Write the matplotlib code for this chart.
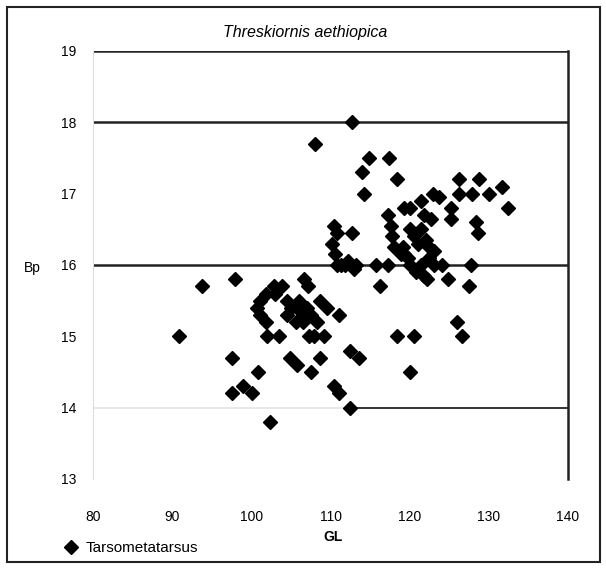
import matplotlib
matplotlib.use("Agg")
import matplotlib.pyplot as plt
from matplotlib.patches import Rectangle

# GL (x) and Bp (y) of the tarsometatarsus
gl = [90.9, 93.8, 97.9, 97.5, 100.9, 97.6, 99.0, 100.1, 102.3,
      103.9, 102.8, 101.8, 101.1, 100.7, 101.1, 101.8, 102.0, 103.5,
      106.6, 107.2, 106.0, 108.7, 104.5, 106.2, 107.5, 108.3, 105.6,
      111.1, 107.9, 109.2, 107.3, 104.9, 105.8, 108.7, 112.5, 113.6,
      107.5, 110.4, 111.1, 112.5, 103.0, 104.5, 105.0, 106.5, 107.0, 109.5,
      111.3, 112.2, 113.2, 110.8, 112.7, 108.1, 114.8, 117.4, 114.0,
      118.4, 114.2, 119.3, 117.2, 110.8, 112.7, 110.2, 110.6, 117.6,
      117.8, 118.0, 118.9, 115.7, 117.2, 126.2, 128.8, 131.7, 126.2,
      127.9, 130.0, 132.4, 122.9, 123.7, 121.4, 125.2, 125.2, 120.1,
      122.7, 121.8, 128.4, 128.6, 120.1, 121.4, 122.0, 120.5, 122.4,
      123.1, 119.1, 119.3, 120.1, 121.4, 123.1, 124.1, 127.7, 121.8,
      122.2, 124.8, 127.5, 120.8, 113.0, 116.3, 126.0, 126.6, 118.4,
      120.5, 120.1, 119.8, 121.0, 122.5, 111.8, 110.5]
bp = [15.0, 15.7, 15.8, 14.7, 14.5, 14.2, 14.3, 14.2, 13.8,
      15.7, 15.7, 15.6, 15.5, 15.4, 15.3, 15.2, 15.0, 15.0,
      15.8, 15.7, 15.5, 15.5, 15.3, 15.35, 15.3, 15.2, 15.2,
      15.3, 15.0, 15.0, 15.0, 14.7, 14.6, 14.7, 14.8, 14.7,
      14.5, 14.3, 14.2, 14.0, 15.6, 15.5, 15.4, 15.2, 15.4, 15.4,
      16.0, 16.05, 16.0, 16.0, 18.0, 17.7, 17.5, 17.5, 17.3,
      17.2, 17.0, 16.8, 16.7, 16.45, 16.45, 16.3, 16.15, 16.55,
      16.4, 16.25, 16.15, 16.0, 16.0, 17.2, 17.2, 17.1, 17.0,
      17.0, 17.0, 16.8, 17.0, 16.95, 16.9, 16.8, 16.65, 16.8,
      16.65, 16.7, 16.6, 16.45, 16.5, 16.5, 16.35, 16.4, 16.25,
      16.2, 16.25, 16.15, 16.0, 16.0, 16.0, 16.0, 16.0, 15.85,
      15.8, 15.8, 15.7, 15.9, 15.95, 15.7, 15.2, 15.0, 15.0,
      15.0, 14.5, 16.1, 16.3, 16.1, 16.0, 16.55]

x_ticks = [80, 90, 100, 110, 120, 130, 140]
y_ticks = [13, 14, 15, 16, 17, 18, 19]

plt.rcParams['font.family'] = ['Liberation Sans', 'DejaVu Sans']

fig = plt.figure(figsize=(6.06, 5.68), dpi=100)
ax = fig.add_axes([93 / 606, 1 - 479 / 568, 475 / 606, 428 / 568])

# grid lines as in the original (the 14 line is faded on its left side)
ax.axhline(19, color='#222222', lw=1.8, zorder=1)
ax.axhline(18, color='#222222', lw=1.8, zorder=1)
ax.axhline(16, color='#222222', lw=1.8, zorder=1)
ax.axhline(14, color='#e4e4e4', lw=1.2, zorder=1)
ax.axhline(14, xmin=0.55, color='#333333', lw=1.4, zorder=1)

ax.plot(gl, bp, 'D', color='black', ms=7.5, ls='none', zorder=3,
        label='Tarsometatarsus')

ax.set_xlim(80, 140)
ax.set_ylim(13, 19)
ax.set_xticks(x_ticks)
ax.set_yticks(y_ticks)
ax.set_xticks([90, 110, 130], minor=True)
ax.tick_params(axis='x', which='major', length=0, pad=22, labelsize=10)
ax.tick_params(axis='x', which='minor', length=4, width=1.2, direction='out')
ax.tick_params(axis='y', length=0, pad=12, labelsize=10)

for side in ['top', 'bottom']:
    ax.spines[side].set_visible(False)
ax.spines['left'].set_color('#dddddd')
ax.spines['right'].set_color('#222222')
ax.spines['right'].set_linewidth(1.8)

fig.text(305 / 606, 1 - 33 / 568, 'Threskiornis aethiopica', style='italic',
         ha='center', va='center', fontsize=11.5)
fig.text(32 / 606, 1 - 268 / 568, 'Bp', ha='center', va='center', fontsize=10)
fig.text(333 / 606, 1 - 537 / 568, 'GL', ha='center', va='center',
         fontsize=10, fontweight='bold')

fig.legend(loc='center left', bbox_to_anchor=(57 / 606, 1 - 548 / 568),
           frameon=False, fontsize=11, handlelength=0.8, handletextpad=0.6,
           borderpad=0, markerscale=0.9)

fig.patches.append(Rectangle((7 / 606, 1 - 562 / 568), 593 / 606, 555 / 568,
                             transform=fig.transFigure, fill=False,
                             edgecolor='#222222', lw=1.5))

fig.savefig('out.png', dpi=100)
